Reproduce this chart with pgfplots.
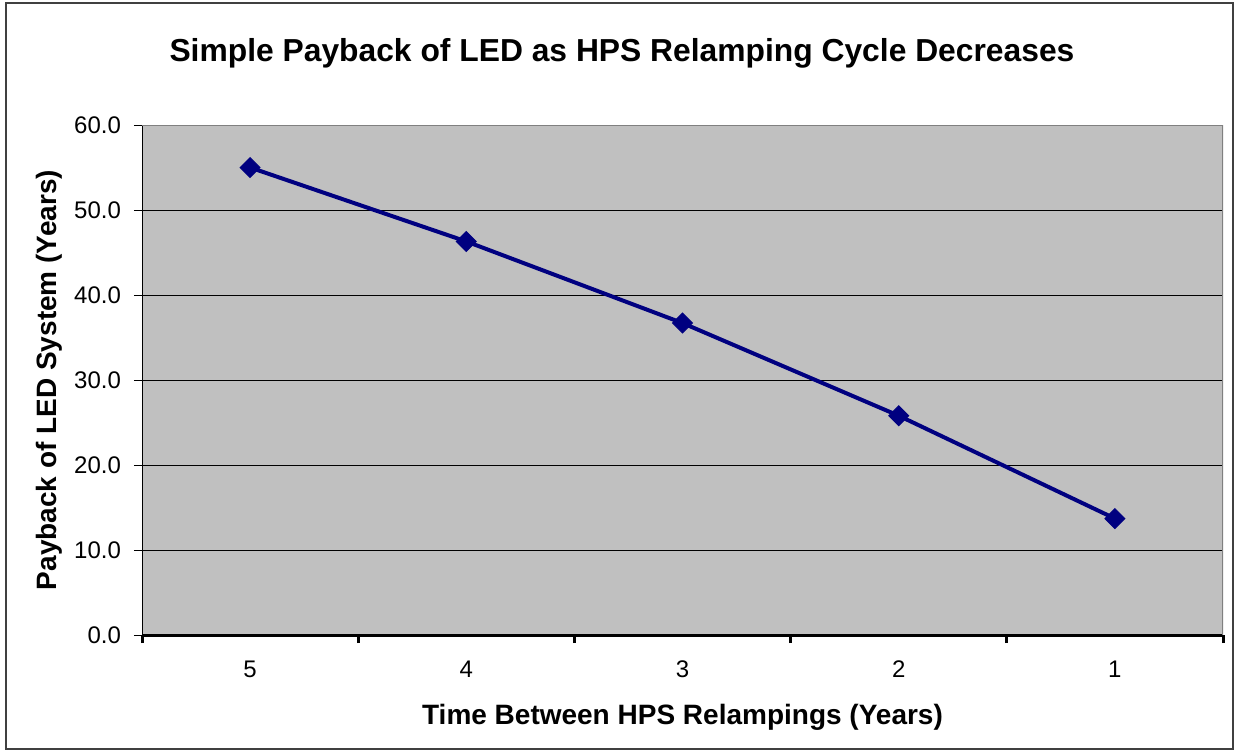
\documentclass[border=0pt]{standalone}
\usepackage{fontspec}
\setmainfont{Liberation Sans}
\usepackage{pgfplots}
\pgfplotsset{compat=1.18}
\definecolor{plotgray}{RGB}{192,192,192}
\definecolor{navyline}{RGB}{0,0,128}
\definecolor{bordergray}{RGB}{128,128,128}
\begin{document}
\begin{tikzpicture}[x=1pt,y=1pt]
\path[use as bounding box] (0,0) rectangle (618,376);
\draw[line width=1pt, black!75] (3,1.5) rectangle (616.5,374.5);
\node[font=\fontsize{15.9}{18}\selectfont\bfseries] at (311,349.5) {Simple Payback of LED as HPS Relamping Cycle Decreases};
\begin{axis}[
  at={(71pt,58.5pt)}, anchor=south west,
  scale only axis, width=540.5pt, height=255pt,
  xmin=0.5, xmax=5.5, ymin=0, ymax=60,
  axis background/.style={fill=plotgray},
  axis x line*=bottom, axis y line*=left,
  x axis line style={line width=1.5pt, -},
  y axis line style={line width=0.5pt, -},
  xtick={1,2,3,4,5}, xticklabels={5,4,3,2,1},
  minor xtick={0.5,1.5,2.5,3.5,4.5,5.5},
  every major x tick/.style={draw=none},
  every minor x tick/.style={line width=1.5pt, black},
  minor tick length=4pt,
  ytick={0,10,20,30,40,50,60},
  every major y tick/.style={line width=0.5pt, black},
  major tick length=4pt,
  tick align=outside,
  ymajorgrids, major grid style={black, line width=0.5pt},
  /pgf/number format/.cd, fixed, fixed zerofill, precision=1, assume math mode=true,
  /pgfplots/.cd,
  tick label style={font=\fontsize{12}{14}\selectfont},
  xticklabel style={yshift=-5.5pt},
  yticklabel style={xshift=-3pt},
  xlabel={Time Between HPS Relampings (Years)},
  ylabel={Payback of LED System (Years)},
  label style={font=\fontsize{14}{16}\selectfont\bfseries},
  xlabel style={at={(axis description cs:0.5,-0.161)}, anchor=center},
  ylabel style={at={(axis description cs:-0.086,0.5)}, anchor=center},
]
\addplot[color=navyline, line width=2pt, mark=square*, mark size=3.5pt,
  mark options={rotate=45, fill=navyline, draw=navyline, line width=0.5pt}]
  coordinates {(1,55.0) (2,46.3) (3,36.7) (4,25.8) (5,13.7)};
\draw[bordergray, line width=0.6pt] (rel axis cs:0,1) -- (rel axis cs:1,1) -- (rel axis cs:1,0);
\end{axis}
\end{tikzpicture}
\end{document}
